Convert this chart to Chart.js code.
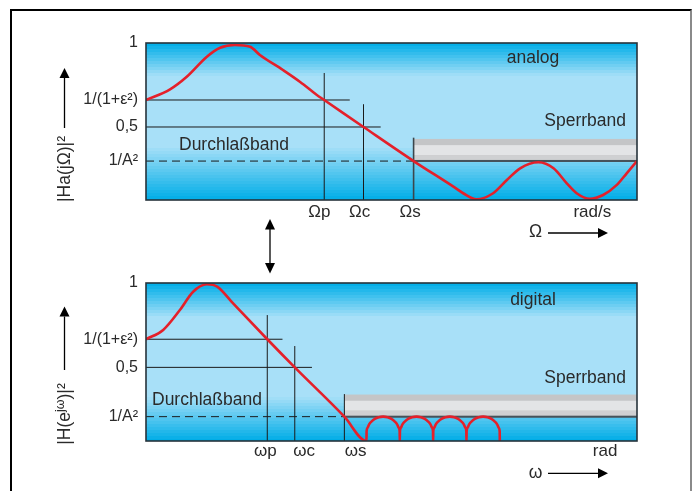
<!DOCTYPE html>
<html>
<head>
<meta charset="utf-8">
<script src="https://cdn.jsdelivr.net/npm/chart.js@4/dist/chart.umd.min.js"></script>
<style>
    html, body { margin: 0; padding: 0; background: #fff; }
    #page { position: relative; width: 694px; height: 491px; overflow: hidden; }
    #frame { position: absolute; left: 10px; top: 9px; width: 678px; height: 540px; border: 2px solid #000; border-right-color: #8a8a8a; }
    #chartAnalog { position: absolute; left: 0; top: 0; }
    #chartDigital { position: absolute; left: 0; top: 250px; }
    #link { position: absolute; left: 0; top: 0; }
</style>
</head>
<body>
<div id="page">
    <div id="frame"></div>
    <canvas id="chartAnalog" width="694" height="250"></canvas>
    <canvas id="chartDigital" width="694" height="241"></canvas>
    <svg id="link" width="694" height="491">
        <line x1="270" y1="228" x2="270" y2="266" stroke="#000" stroke-width="1.3"/>
        <polygon points="270,219 265,229.5 275,229.5" fill="#000"/>
        <polygon points="270,273.5 265,263 275,263" fill="#000"/>
    </svg>
</div>
<script>
// analog filter |Ha(jΩ)|², x in % of the plotted Ω range
var analogX = [0, 4.9, 8.3, 12.4, 15.1, 18.1, 21.2, 23.2, 27.9, 31.4, 34.8, 36.3, 44.3, 54.5, 62.6, 64.6, 67.3, 70.7, 73.5, 76.2, 79.9, 83.0, 85.7, 87.7, 90.4, 93.1, 95.9, 97.9, 100]
var analogY = [0.637, 0.705, 0.785, 0.913, 0.97, 0.987, 0.976, 0.924, 0.828, 0.752, 0.669, 0.637, 0.465, 0.248, 0.085, 0.043, 0.004, 0.043, 0.127, 0.202, 0.240, 0.202, 0.106, 0.043, 0.008, 0.032, 0.096, 0.17, 0.248]
var analogLevels = [1, 0.637, 0.465, 0.248]
var analogLevelLabels = ['1', '1/(1+ε²)', '0,5', '1/A²']
var analogEdges = [36.3, 44.3, 54.5]
var analogEdgeTops = [0.809, 0.61, 0.397]
var analogBandTop = 0.389
var analogTickPos = [35.3, 43.5, 53.8, 90.9]
var analogTickLabels = ['Ωp', 'Ωc', 'Ωs', 'rad/s']

// digital filter |H(e^jω)|²
var digitalX = [0, 3.5, 6.9, 9.6, 12.4, 14.5, 17.7, 24.7, 30.3, 40.4, 44.9,
    44.93, 45.10, 45.44, 45.92, 46.60, 47.41, 48.30, 49.18, 49.99, 50.67, 51.15, 51.49, 51.66, 51.69,
    51.72, 51.89, 52.23, 52.71, 53.39, 54.20, 55.09, 55.97, 56.78, 57.46, 57.94, 58.28, 58.45, 58.48,
    58.51, 58.68, 59.02, 59.50, 60.18, 60.99, 61.88, 62.76, 63.57, 64.25, 64.73, 65.07, 65.24, 65.27,
    65.30, 65.47, 65.81, 66.29, 66.97, 67.78, 68.67, 69.55, 70.36, 71.04, 71.52, 71.86, 72.03, 72.06]
var digitalY = [0.644, 0.703, 0.829, 0.945, 0.992, 0.977, 0.872, 0.644, 0.466, 0.154, 0,
    0.062, 0.083, 0.105, 0.123, 0.140, 0.150, 0.154, 0.150, 0.140, 0.123, 0.105, 0.083, 0.062, 0,
    0.062, 0.083, 0.105, 0.123, 0.140, 0.150, 0.154, 0.150, 0.140, 0.123, 0.105, 0.083, 0.062, 0,
    0.062, 0.083, 0.105, 0.123, 0.140, 0.150, 0.154, 0.150, 0.140, 0.123, 0.105, 0.083, 0.062, 0,
    0.062, 0.083, 0.105, 0.123, 0.140, 0.150, 0.154, 0.150, 0.140, 0.123, 0.105, 0.083, 0.062, 0]
var digitalLevels = [1, 0.644, 0.466, 0.154]
var digitalLevelLabels = ['1', '1/(1+ε²)', '0,5', '1/A²']
var digitalEdges = [24.7, 30.3, 40.4]
var digitalEdgeTops = [0.797, 0.601, 0.297]
var digitalBandTop = 0.294
var digitalTickPos = [24.3, 32.2, 42.7, 93.5]
var digitalTickLabels = ['ωp', 'ωc', 'ωs', 'rad']

var FONT = '"Liberation Sans", Arial, Helvetica, sans-serif'
var TEXT = '#2a2a2a'

function drawBands(c, a, topRamp, botRamp) {
    var dark = [0, 173, 231], light = [168, 224, 248]
    for (var y = a.top; y < a.bottom; y += 3) {
        var t = Math.min(1, (y - a.top + 1) / topRamp, (a.bottom - y - 2) / botRamp)
        t = Math.max(0, t)
        var col = dark.map(function (d, i) { return Math.round(d + (light[i] - d) * t) })
        c.fillStyle = 'rgb(' + col.join(',') + ')'
        c.fillRect(a.left, y, a.right - a.left, Math.min(3, a.bottom - y))
    }
}

function hLine(c, x1, x2, y, color, width, dash) {
    c.save()
    c.strokeStyle = color
    c.lineWidth = width
    c.setLineDash(dash || [])
    c.beginPath()
    c.moveTo(x1, y)
    c.lineTo(x2, y)
    c.stroke()
    c.restore()
}

function vLine(c, x, y1, y2, color, width) {
    c.save()
    c.strokeStyle = color
    c.lineWidth = width
    c.beginPath()
    c.moveTo(x, y1)
    c.lineTo(x, y2)
    c.stroke()
    c.restore()
}

function arrow(c, x1, y1, x2, y2) {
    // straight arrow with a filled head at (x2, y2)
    var ang = Math.atan2(y2 - y1, x2 - x1), len = 10, hw = 5
    var bx = x2 - Math.cos(ang) * len, by = y2 - Math.sin(ang) * len
    c.save()
    c.strokeStyle = '#000'
    c.fillStyle = '#000'
    c.lineWidth = 1.3
    c.beginPath()
    c.moveTo(x1, y1)
    c.lineTo(bx, by)
    c.stroke()
    c.beginPath()
    c.moveTo(x2, y2)
    c.lineTo(bx + Math.sin(ang) * hw, by - Math.cos(ang) * hw)
    c.lineTo(bx - Math.sin(ang) * hw, by + Math.cos(ang) * hw)
    c.closePath()
    c.fill()
    c.restore()
}

// rich text: parts [{t, size, dy}], centred on (x, y), optionally rotated
function richText(c, parts, x, y, rot) {
    c.save()
    c.translate(x, y)
    if (rot) c.rotate(rot)
    c.fillStyle = TEXT
    c.textBaseline = 'alphabetic'
    c.textAlign = 'left'
    var total = 0
    parts.forEach(function (p) {
        c.font = p.size + 'px ' + FONT
        total += c.measureText(p.t).width
    })
    var cx = -total / 2
    parts.forEach(function (p) {
        c.font = p.size + 'px ' + FONT
        c.fillText(p.t, cx, 6 + (p.dy || 0))
        cx += c.measureText(p.t).width
    })
    c.restore()
}

function text(c, s, x, y, align, size) {
    c.save()
    c.font = (size || 17.5) + 'px ' + FONT
    c.fillStyle = TEXT
    c.textAlign = align
    c.textBaseline = 'alphabetic'
    c.fillText(s, x, y)
    c.restore()
}

function panelPlugin(p) {
    return {
        id: 'panel' + p.name,
        beforeDatasetsDraw: function (chart) {
            var c = chart.ctx, a = chart.chartArea, xs = chart.scales.x, ys = chart.scales.y
            drawBands(c, a, p.topRamp, p.botRamp)

            // Sperrband strip
            var xS = xs.getPixelForValue(p.edges[2])
            var yA = ys.getPixelForValue(p.levels[3])
            var yT = ys.getPixelForValue(p.bandTop)
            var h = yA - yT
            c.fillStyle = '#c4c5c7'
            c.fillRect(xS, yT, a.right - xS, h)
            c.fillStyle = '#e3e4e6'
            c.fillRect(xS, yT + h * 0.28, a.right - xS, h * 0.45)
            c.fillStyle = '#cfd0d2'
            c.fillRect(xS, yT + h * 0.73, a.right - xS, h * 0.2)
            hLine(c, xS, a.right, yA, '#46525a', 2)

            // level lines
            hLine(c, a.left, xs.getPixelForValue(p.lineEnds[0]), ys.getPixelForValue(p.levels[1]), '#1a1a1a', 1)
            hLine(c, a.left, xs.getPixelForValue(p.lineEnds[1]), ys.getPixelForValue(p.levels[2]), '#1a1a1a', 1)
            hLine(c, a.left, xS, yA, '#1a1a1a', 1, [8, 5])

            // edge frequencies
            for (var i = 0; i < 3; i++) {
                vLine(c, xs.getPixelForValue(p.edges[i]), ys.getPixelForValue(p.edgeTops[i]), a.bottom,
                    i == 2 && p.name == 'analog' ? '#3c464c' : '#1a1a1a', i == 2 && p.name == 'analog' ? 1.6 : 1)
            }
        },
        afterDatasetsDraw: function (chart) {
            var c = chart.ctx, a = chart.chartArea
            c.save()
            c.strokeStyle = '#26333b'
            c.lineWidth = 1.6
            c.strokeRect(a.left, a.top, a.right - a.left, a.bottom - a.top)
            c.restore()
        },
        afterDraw: function (chart) {
            var c = chart.ctx
            text(c, p.name, p.nameX, p.nameY, 'center')
            text(c, 'Sperrband', 626, p.stopY, 'right')
            text(c, 'Durchlaßband', p.passX, p.passY, 'left')
            richText(c, p.yTitle, p.titleX, p.titleY, -Math.PI / 2)
            arrow(c, 64.5, p.yArrow[0], 64.5, p.yArrow[1])
            text(c, p.xName, 535.5, p.xNameY, 'center')
            arrow(c, 548, p.xArrowY, 608, p.xArrowY)
        }
    }
}

function loadPanel(canvasId, p) {
    var ctx = document.getElementById(canvasId).getContext('2d')
    var points = p.x.map(function (x, i) { return { x: x, y: p.y[i] } })
    new Chart(ctx, {
        type: 'line',
        data: {
            datasets: [{
                data: points,
                borderColor: '#e4202a',
                borderWidth: 2.6,
                pointRadius: 0,
                fill: false,
                cubicInterpolationMode: 'monotone'
            }]
        },
        options: {
            responsive: false,
            animation: false,
            devicePixelRatio: 1,
            layout: { padding: { left: 0, right: 57, top: p.top, bottom: 0 } },
            plugins: { legend: { display: false }, tooltip: { enabled: false } },
            scales: {
                x: {
                    type: 'linear', min: 0, max: 100,
                    grid: { display: false, drawTicks: false },
                    border: { display: false },
                    afterBuildTicks: function (s) { s.ticks = p.tickPos.map(function (v) { return { value: v } }) },
                    afterFit: function (s) { s.height = 50 },
                    ticks: {
                        autoSkip: false, maxRotation: 0, padding: p.tickPad,
                        color: TEXT, font: { family: FONT, size: 17 },
                        callback: function (v, i) { return p.tickLabels[i] }
                    }
                },
                y: {
                    type: 'linear', min: 0, max: 1,
                    grid: { display: false, drawTicks: false },
                    border: { display: false },
                    afterBuildTicks: function (s) { s.ticks = p.levels.map(function (v) { return { value: v } }) },
                    afterFit: function (s) { s.width = 146 },
                    ticks: {
                        autoSkip: false, padding: 8,
                        color: TEXT, font: { family: FONT, size: 16 },
                        callback: function (v, i) { return p.levelLabels[i] }
                    }
                }
            }
        },
        plugins: [panelPlugin(p)]
    })
}

loadPanel('chartAnalog', {
    name: 'analog', x: analogX, y: analogY, top: 43, tickPad: 2,
    levels: analogLevels, levelLabels: analogLevelLabels,
    edges: analogEdges, edgeTops: analogEdgeTops, bandTop: analogBandTop,
    tickPos: analogTickPos, tickLabels: analogTickLabels,
    lineEnds: [41.5, 47.8],
    topRamp: 33, botRamp: 53,
    nameX: 533, nameY: 62.5, stopY: 126, passX: 179, passY: 150,
    yTitle: [{ t: '|Ha(jΩ)|', size: 17.5 }, { t: '²', size: 17.5 }],
    titleX: 64, titleY: 169, yArrow: [128, 68],
    xName: 'Ω', xNameY: 236.5, xArrowY: 233
})

loadPanel('chartDigital', {
    name: 'digital', x: digitalX, y: digitalY, top: 33, tickPad: 0,
    levels: digitalLevels, levelLabels: digitalLevelLabels,
    edges: digitalEdges, edgeTops: digitalEdgeTops, bandTop: digitalBandTop,
    tickPos: digitalTickPos, tickLabels: digitalTickLabels,
    lineEnds: [27.8, 33.8],
    topRamp: 34, botRamp: 44,
    nameX: 533, nameY: 55, stopY: 132.5, passX: 152, passY: 154.5,
    yTitle: [{ t: '|H(e', size: 17.5 }, { t: 'jω', size: 12.5, dy: -6 }, { t: ')|', size: 17.5 }, { t: '²', size: 17.5 }],
    titleX: 64, titleY: 164, yArrow: [120, 56.5],
    xName: 'ω', xNameY: 228, xArrowY: 223.3
})
</script>
</body>
</html>
